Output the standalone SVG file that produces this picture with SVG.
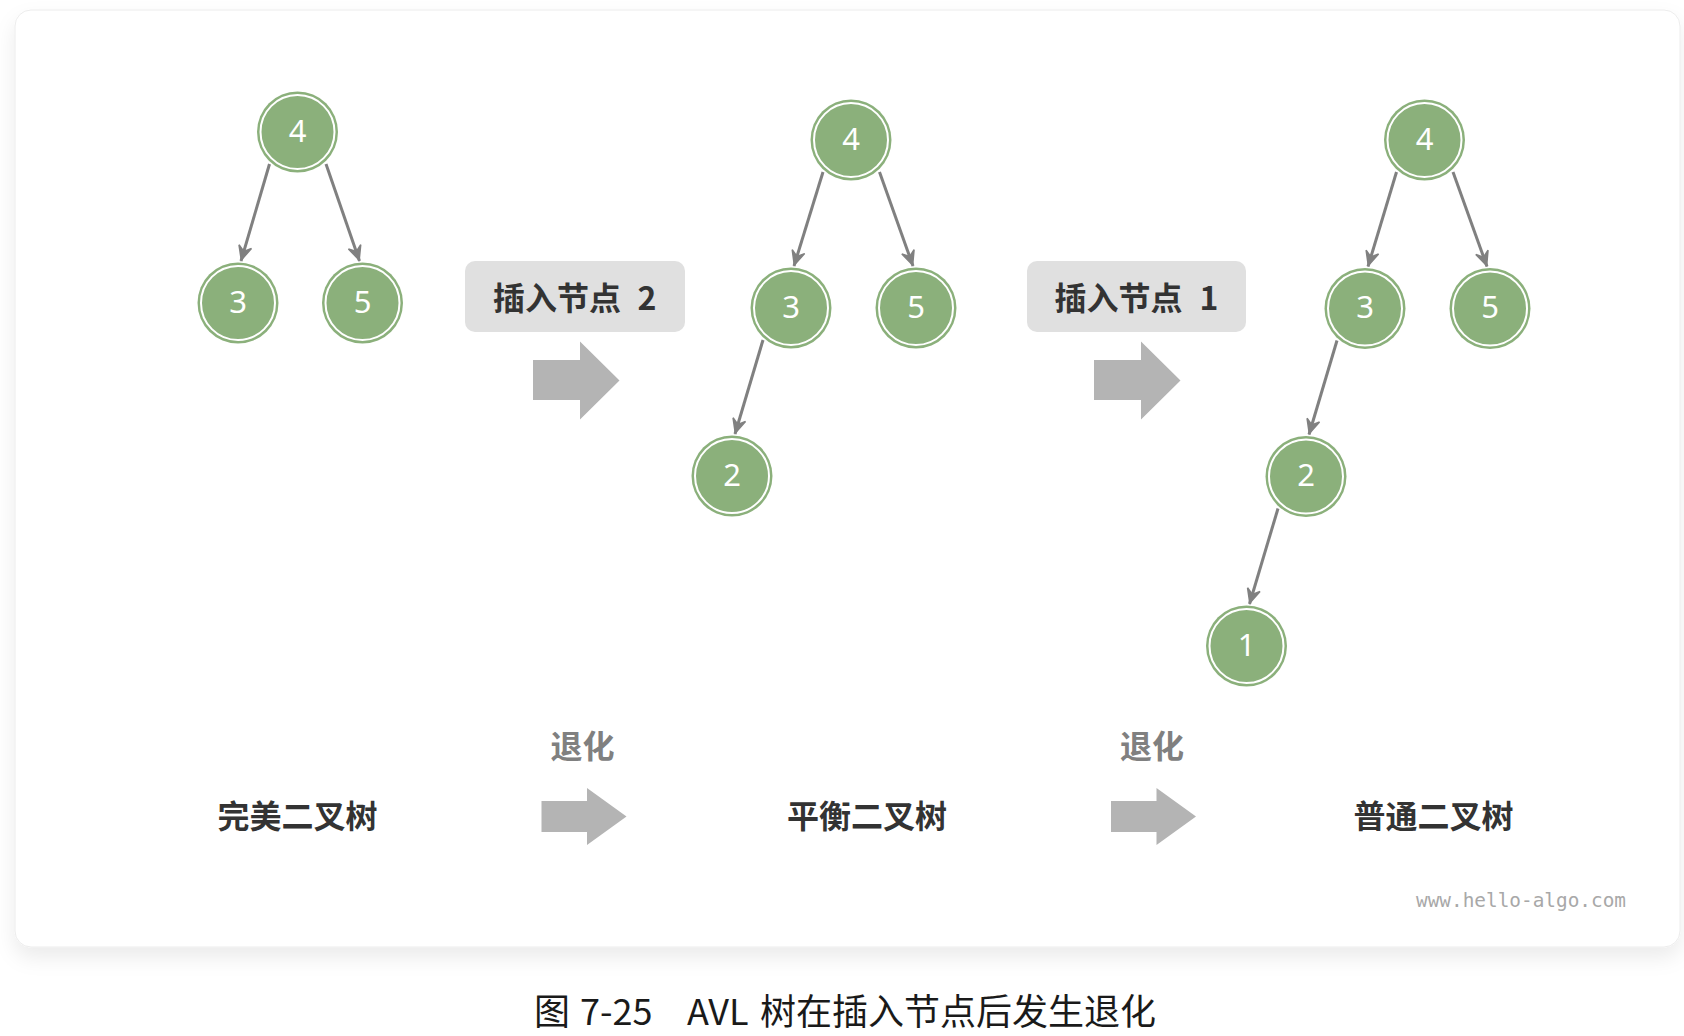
<svg xmlns="http://www.w3.org/2000/svg" width="1684" height="1036" viewBox="0 0 1684 1036">
  <defs>
    <filter id="shadow" x="-5%" y="-5%" width="110%" height="115%">
      <feDropShadow dx="0" dy="10" stdDeviation="10" flood-color="#000" flood-opacity="0.08"/>
    </filter>
    <marker id="arr" markerUnits="userSpaceOnUse" viewBox="-18 -10 22 20" markerWidth="22" markerHeight="20" refX="1" refY="0" orient="auto">
      <path d="M-14,-6.5 L0,0 L-14,6.5 L-9,0 Z" fill="#808080" stroke="#808080" stroke-width="1.5" stroke-linejoin="miter"/>
    </marker>
    <style>
      .node circle.body { fill: #8bb07b; }
      .node circle.ring { fill: none; stroke: #ffffff; stroke-width: 2; }
      .node text { fill: #ffffff; font-family: "Noto Sans", "DejaVu Sans", sans-serif; font-size: 31px; text-anchor: middle; }
      .edge { stroke: #808080; stroke-width: 3; fill: none; marker-end: url(#arr); }
      .block { fill: #b4b4b4; }
      .lbox { fill: #e0e0e0; }
      .ltext { fill: #333333; font-family: "Noto Sans CJK SC", "Noto Sans", sans-serif; font-size: 32px; font-weight: 700; }
      .title { fill: #333333; font-family: "Noto Sans CJK SC", sans-serif; font-size: 32px; font-weight: 700; text-anchor: middle; }
      .degrade { fill: #808080; font-family: "Noto Sans CJK SC", sans-serif; font-size: 32px; font-weight: 700; text-anchor: middle; }
      .wm { fill: #a8a8a8; font-family: "DejaVu Sans Mono", "Liberation Mono", monospace; font-size: 19.5px; }
      .caption { fill: #1a1a1a; font-family: "Noto Sans CJK SC", "Noto Sans", sans-serif; font-size: 36px; }
    </style>
  </defs>

  <rect x="0" y="0" width="1684" height="1036" fill="#ffffff"/>
  <rect id="card" x="15" y="10" width="1665" height="937" rx="16" fill="#ffffff" stroke="#ececec" stroke-width="1" filter="url(#shadow)"/>

  <g id="connectors">
    <line class="edge" x1="269.5" y1="164" x2="241" y2="261"/>
    <line class="edge" x1="326" y1="164" x2="359.5" y2="261"/>
    <line class="edge" x1="823" y1="172" x2="794" y2="266"/>
    <line class="edge" x1="879.5" y1="172" x2="913" y2="266"/>
    <line class="edge" x1="763" y1="340" x2="735" y2="434"/>
    <line class="edge" x1="1396.5" y1="172" x2="1368" y2="266.5"/>
    <line class="edge" x1="1453" y1="172" x2="1487" y2="266.5"/>
    <line class="edge" x1="1337" y1="340.5" x2="1309" y2="434.5"/>
    <line class="edge" x1="1278" y1="508.5" x2="1249.5" y2="604"/>
  </g>

  <g id="tree1">
    <g id="t1-n4" class="node"><circle class="body" cx="297.5" cy="132" r="40.5"/><circle class="ring" cx="297.5" cy="132" r="37"/><text x="297.5" y="141.5">4</text></g>
    <g id="t1-n3" class="node"><circle class="body" cx="238" cy="303" r="40.5"/><circle class="ring" cx="238" cy="303" r="37"/><text x="238" y="312.5">3</text></g>
    <g id="t1-n5" class="node"><circle class="body" cx="362.5" cy="303" r="40.5"/><circle class="ring" cx="362.5" cy="303" r="37"/><text x="362.5" y="312.5">5</text></g>
  </g>

  <g id="tree2">
    <g id="t2-n4" class="node"><circle class="body" cx="851" cy="140" r="40.5"/><circle class="ring" cx="851" cy="140" r="37"/><text x="851" y="149.5">4</text></g>
    <g id="t2-n3" class="node"><circle class="body" cx="791" cy="308" r="40.5"/><circle class="ring" cx="791" cy="308" r="37"/><text x="791" y="317.5">3</text></g>
    <g id="t2-n5" class="node"><circle class="body" cx="916" cy="308" r="40.5"/><circle class="ring" cx="916" cy="308" r="37"/><text x="916" y="317.5">5</text></g>
    <g id="t2-n2" class="node"><circle class="body" cx="732" cy="476" r="40.5"/><circle class="ring" cx="732" cy="476" r="37"/><text x="732" y="485.5">2</text></g>
  </g>

  <g id="tree3">
    <g id="t3-n4" class="node"><circle class="body" cx="1424.5" cy="140" r="40.5"/><circle class="ring" cx="1424.5" cy="140" r="37"/><text x="1424.5" y="149.5">4</text></g>
    <g id="t3-n3" class="node"><circle class="body" cx="1365" cy="308.5" r="40.5"/><circle class="ring" cx="1365" cy="308.5" r="37"/><text x="1365" y="318">3</text></g>
    <g id="t3-n5" class="node"><circle class="body" cx="1490" cy="308.5" r="40.5"/><circle class="ring" cx="1490" cy="308.5" r="37"/><text x="1490" y="318">5</text></g>
    <g id="t3-n2" class="node"><circle class="body" cx="1306" cy="476.5" r="40.5"/><circle class="ring" cx="1306" cy="476.5" r="37"/><text x="1306" y="486">2</text></g>
    <g id="t3-n1" class="node"><circle class="body" cx="1246.5" cy="646" r="40.5"/><circle class="ring" cx="1246.5" cy="646" r="37"/><text x="1246.5" y="655.5">1</text></g>
  </g>

  <g id="step1">
    <rect class="lbox" x="465" y="261" width="220" height="71" rx="10"/>
    <text class="ltext" y="310"><tspan x="493">插入节点 </tspan><tspan x="647" text-anchor="middle">2</tspan></text>
    <polygon class="block" points="533,360 580,360 580,341.5 619.5,380.5 580,419.5 580,400 533,400"/>
  </g>

  <g id="step2">
    <rect class="lbox" x="1027" y="261" width="219" height="71" rx="10"/>
    <text class="ltext" y="310"><tspan x="1054.5">插入节点 </tspan><tspan x="1209" text-anchor="middle">1</tspan></text>
    <polygon class="block" points="1094,360 1141,360 1141,341.5 1180.5,380.5 1141,419.5 1141,400 1094,400"/>
  </g>

  <g id="bottom-row">
    <text id="title1" class="title" x="297.5" y="828">完美二叉树</text>
    <text id="title2" class="title" x="867" y="828">平衡二叉树</text>
    <text id="title3" class="title" x="1433.5" y="828">普通二叉树</text>
    <text class="degrade" x="582.5" y="758">退化</text>
    <text class="degrade" x="1152" y="758">退化</text>
    <polygon class="block" points="541.5,801 587,801 587,788 626.5,816.5 587,845 587,832 541.5,832"/>
    <polygon class="block" points="1111,801 1156.5,801 1156.5,788 1196,816.5 1156.5,845 1156.5,832 1111,832"/>
  </g>

  <text class="wm" x="1416" y="907" textLength="210" lengthAdjust="spacingAndGlyphs">www.hello-algo.com</text>

  <text class="caption" y="1025"><tspan x="534">图 </tspan><tspan x="580">7-25 </tspan><tspan x="687">AVL </tspan><tspan x="760">树在插入节点后发生退化</tspan></text>
</svg>
